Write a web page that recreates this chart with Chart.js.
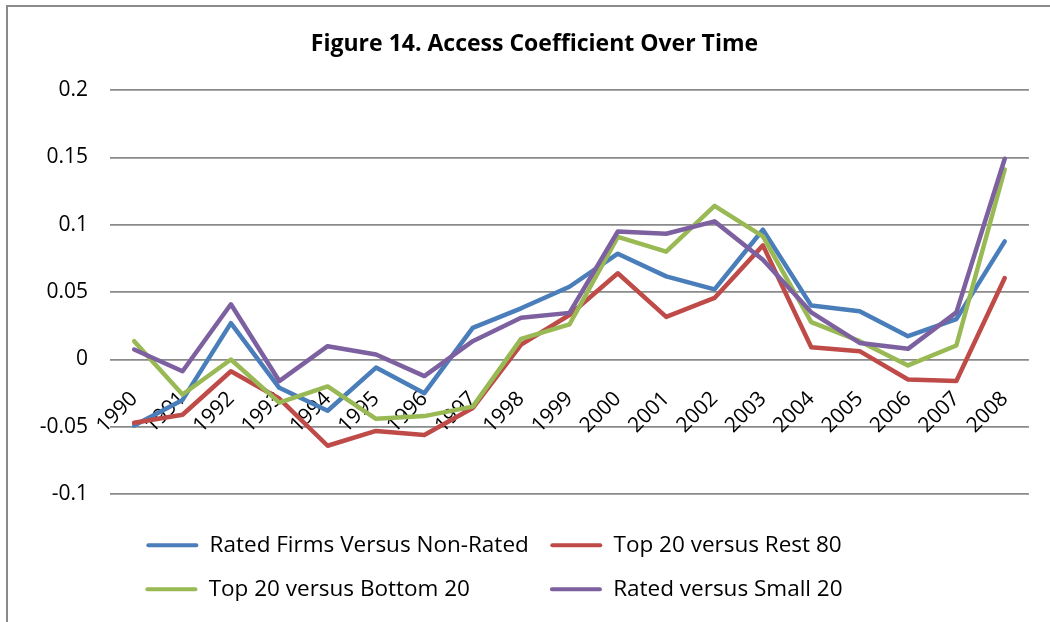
<!DOCTYPE html>
<html>
<head>
<meta charset="utf-8">
<title>Access Coefficient Over Time</title>
<script src="https://cdn.jsdelivr.net/npm/chart.js@4.4.1/dist/chart.umd.min.js"></script>
<style>
  html, body { margin: 0; padding: 0; background: #fff; }
  body { position: relative; width: 1050px; height: 622px; overflow: hidden; }
  /* grey frame round the chart (only top and left edges fall inside the page) */
  #frame { position: absolute; left: 6px; top: 5px; width: 1100px; height: 700px;
           border-top: 2px solid #8a8a8a; border-left: 2px solid #8a8a8a; }
  #chart { position: absolute; left: 0; top: 0; }
</style>
</head>
<body>
<div id="frame"></div>
<canvas id="chart" width="1050" height="622"></canvas>
<script>
const years = ["1990", "1991", "1992", "1993", "1994", "1995", "1996", "1997", "1998", "1999",
               "2000", "2001", "2002", "2003", "2004", "2005", "2006", "2007", "2008"];

const ratedVsNonRated = [-0.049, -0.030, 0.027, -0.021, -0.038, -0.006, -0.025, 0.0235, 0.038, 0.054,
                         0.0785, 0.0617, 0.052, 0.0963, 0.040, 0.0358, 0.0173, 0.030, 0.0877];
const top20VsRest80 = [-0.047, -0.041, -0.0087, -0.029, -0.064, -0.053, -0.056, -0.036, 0.011, 0.033,
                       0.064, 0.0316, 0.0457, 0.0847, 0.0091, 0.0062, -0.0148, -0.016, 0.0605];
const top20VsBottom20 = [0.0136, -0.026, 0.0, -0.032, -0.020, -0.044, -0.042, -0.035, 0.0153, 0.026,
                         0.091, 0.080, 0.114, 0.0914, 0.0277, 0.0136, -0.0044, 0.0104, 0.141];
const ratedVsSmall20 = [0.0074, -0.0087, 0.041, -0.016, 0.0099, 0.0037, -0.0123, 0.0136, 0.031, 0.0346,
                        0.095, 0.0933, 0.1025, 0.074, 0.035, 0.0123, 0.0079, 0.035, 0.149];

const yTicks = [-0.1, -0.05, 0, 0.05, 0.1, 0.15, 0.2];

const FONT = "'Open Sans', Lato, sans-serif";
const legendSize = 22.5;

const series = [
  { label: "Rated Firms Versus Non-Rated", data: ratedVsNonRated, color: "#4a7ebb" },
  { label: "Top 20 versus Rest 80", data: top20VsRest80, color: "#be4b48" },
  { label: "Top 20 versus Bottom 20", data: top20VsBottom20, color: "#98b954" },
  { label: "Rated versus Small 20", data: ratedVsSmall20, color: "#7d60a0" }
];

// legend rows are centred, so pad the second row's texts to the first row's widths
// to keep the two legend columns lined up
const measureCtx = document.createElement("canvas").getContext("2d");
measureCtx.font = `${legendSize}px ${FONT}`;
function padLike(text, ref) {
  const target = measureCtx.measureText(ref).width;
  const w = s => measureCtx.measureText(s).width;
  let out = text;
  while (Math.abs(w(out + " ") - target) < Math.abs(w(out) - target)) out += " ";
  return out;
}

// move the legend block a little left of the page centre
const legendShift = {
  id: "legendShift",
  afterLayout(chart) {
    chart.legend.left -= 81;
  }
};

Chart.defaults.font.family = FONT;

new Chart(document.getElementById("chart"), {
  type: "line",
  data: {
    labels: years,
    datasets: series.map((s, i) => ({
      label: s.label,
      data: s.data,
      borderColor: s.color,
      backgroundColor: s.color,
      borderWidth: 4.5,
      borderJoinStyle: "round",
      borderCapStyle: "round",
      pointRadius: 0,
      tension: 0,
      fill: false,
      order: series.length - i
    }))
  },
  options: {
    responsive: false,
    animation: false,
    layout: { padding: { top: 0, right: 17, bottom: 11.5, left: 36 } },
    scales: {
      x: {
        type: "category",
        position: { y: 0 },
        offset: true,
        afterFit(scale) { scale.height = 0; },
        grid: { display: false, drawTicks: false },
        border: { display: false },
        ticks: {
          color: "#000",
          font: { family: FONT, size: 21 },
          minRotation: 45,
          maxRotation: 45,
          autoSkip: false,
          padding: 27
        }
      },
      y: {
        min: -0.1,
        max: 0.2,
        afterBuildTicks(scale) { scale.ticks = yTicks.map(v => ({ value: v })); },
        afterFit(scale) { scale.width = 74; },
        grid: { color: "#8a8a8a", lineWidth: 1.75, drawTicks: false },
        border: { display: false },
        ticks: {
          color: "#000",
          font: { family: FONT, size: 21 },
          padding: 22,
          callback: v => String(v)
        }
      }
    },
    plugins: {
      tooltip: { enabled: false },
      title: {
        display: true,
        text: "Figure 14. Access Coefficient Over Time",
        color: "#000",
        font: { family: FONT, size: 23, weight: "bold" },
        padding: { top: 30.2, bottom: 32.2 }
      },
      legend: {
        position: "bottom",
        // empty title only adds the gap between the plot and the first legend row
        title: { display: true, text: "", padding: 0, font: { size: 10, lineHeight: 1.825 } },
        labels: {
          color: "#000",
          font: { family: FONT, size: legendSize },
          boxWidth: 52,
          boxHeight: 4,
          padding: 21.5,
          useBorderRadius: true,
          borderRadius: 2,
          generateLabels(chart) {
            const items = Chart.defaults.plugins.legend.labels.generateLabels(chart);
            items.sort((a, b) => a.datasetIndex - b.datasetIndex);
            items.forEach(item => { item.lineWidth = 0; });
            items[2].text = padLike(items[2].text, items[0].text);
            items[3].text = padLike(items[3].text, items[1].text);
            return items;
          }
        }
      }
    }
  },
  plugins: [legendShift]
});
</script>
</body>
</html>
